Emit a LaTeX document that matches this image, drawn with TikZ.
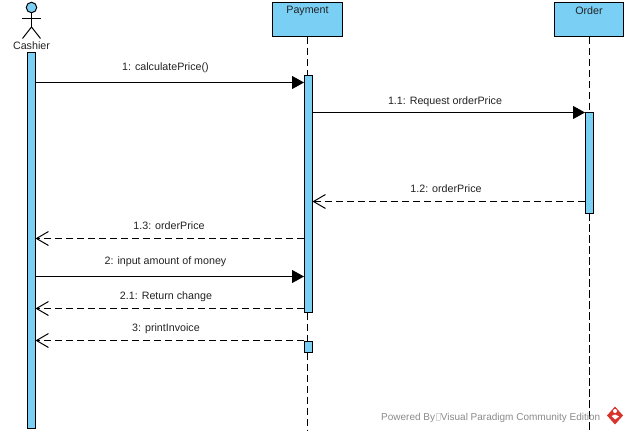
\documentclass[tikz,border=0pt]{standalone}
\usepackage{fontspec}
\setmainfont{Liberation Sans}
\usetikzlibrary{arrows.meta,calc}
\definecolor{vpblue}{HTML}{7ACFF5}
\definecolor{wm}{HTML}{8A8A8A}
\definecolor{logored}{HTML}{D8342C}
\definecolor{ink}{HTML}{222222}
\tikzset{
  lifebox/.style={draw=black,fill=vpblue,line width=1pt,rectangle,inner sep=0pt,outer sep=0pt},
  actbar/.style={draw=black,fill=vpblue,line width=1pt,rectangle,inner sep=0pt,outer sep=0pt,anchor=north west},
  lifeline/.style={draw=black,line width=1pt,dash pattern=on 7.5pt off 3.5pt},
  callmsg/.style={draw=black,line width=1pt,-{Triangle[length=12pt,width=13pt,fill=black]}},
  retmsg/.style={draw=black,line width=1pt,dash pattern=on 7.5pt off 3.5pt,-{Straight Barb[length=12pt,width=14pt,line width=1pt]}},
  msglabel/.style={font=\fontsize{10.7pt}{12pt}\selectfont,text=ink,inner sep=0pt},
  stick/.style={draw=black,line width=1pt}
}
\begin{document}
\begin{tikzpicture}[x=1pt,y=-1pt]
\useasboundingbox (0,0) rectangle (629,433);
% lifeline heads
\node[lifebox,minimum width=70pt,minimum height=34.5pt,anchor=north west] (payhead) at (272.5,2.5) {};
\node[lifebox,minimum width=69pt,minimum height=34.5pt,anchor=north west] (ordhead) at (554.5,2.5) {};
\node[msglabel] (paytxt) at (307.5,11) {Payment};
\node[msglabel] (ordtxt) at (589,10.5) {Order};
% activation bars
\node[actbar,minimum width=8pt,minimum height=376pt] (cashbar) at (27.5,52.5) {};
\node[actbar,minimum width=8.5pt,minimum height=237pt] (paybar) at (304,75.5) {};
\node[actbar,minimum width=8.5pt,minimum height=11.5pt] (paybarb) at (304,341) {};
\node[actbar,minimum width=8.5pt,minimum height=100.5pt] (ordbar) at (585,112.5) {};
% lifelines
\coordinate (payend) at (307.5,430);
\coordinate (ordend) at (589,430);
\draw[lifeline] (payhead.south) -- (paybar.north -| payhead.south);
\draw[lifeline] (paybar.south -| payhead.south) -- (paybarb.north -| payhead.south);
\draw[lifeline] (paybarb.south -| payhead.south) -- (payend);
\draw[lifeline] (ordhead.south) -- (ordbar.north -| ordhead.south);
\draw[lifeline] (ordbar.south -| ordhead.south) -- (ordend);
% actor
\node[circle,draw=black,fill=vpblue,line width=1pt,minimum size=10.5pt,inner sep=0pt,outer sep=0pt] (head) at (31.5,7.5) {};
\coordinate (armL) at (22,18.5);
\coordinate (armR) at (40.5,18.5);
\coordinate (hip) at (31.5,27);
\coordinate (legL) at (22.5,38.5);
\coordinate (legR) at (40.5,38.5);
\draw[stick] (head.south) -- (hip);
\draw[stick] (armL) -- (armR);
\draw[stick] (legL) -- (hip) -- (legR);
\node[msglabel] (cashtxt) at (31.5,45.5) {Cashier};
% messages
\draw[callmsg] (cashbar.east |- 0,82.5) -- (paybar.west |- 0,82.5);
\draw[callmsg] (paybar.east |- 0,112.5) -- (ordbar.west |- 0,112.5);
\draw[retmsg] (ordbar.west |- 0,201.5) -- (paybar.east |- 0,201.5);
\draw[retmsg] (paybar.west |- 0,238.5) -- (cashbar.east |- 0,238.5);
\draw[callmsg] (cashbar.east |- 0,276.5) -- (paybar.west |- 0,276.5);
\draw[retmsg] (paybar.west |- 0,308.5) -- (cashbar.east |- 0,308.5);
\draw[retmsg] (paybarb.west |- 0,340.5) -- (cashbar.east |- 0,340.5);
% labels
\node[msglabel] (l1) at (165.5,67.5) {1: calculatePrice()};
\node[msglabel] (l2) at (445,101.5) {1.1: Request orderPrice};
\node[msglabel] (l3) at (446,189) {1.2: orderPrice};
\node[msglabel] (l4) at (169,226) {1.3: orderPrice};
\node[msglabel] (l5) at (165.5,261.5) {2: input amount of money};
\node[msglabel] (l6) at (166,297) {2.1: Return change};
\node[msglabel] (l7) at (166,329) {3: printInvoice};
% watermark
\node[font=\fontsize{10pt}{12pt}\selectfont,text=wm,inner sep=0pt,anchor=west] (wmtxt) at (381,417.5)
  {Powered By{\color{wm!35}\setlength{\fboxsep}{0pt}\setlength{\fboxrule}{0.4pt}\hspace{1pt}\fbox{\rule{0pt}{7pt}\rule{3pt}{0pt}}\hspace{1pt}}Visual Paradigm Community Edition};
% logo
\fill[logored] (615,406.5) -- (623,415.5) -- (615,424.5) -- (607,415.5) -- cycle;
\fill[white] (615,411) circle (2pt);
\fill[white] (611.5,416) -- (615,414.5) -- (619,416.5) -- (615,419.5) -- cycle;
\end{tikzpicture}
\end{document}
